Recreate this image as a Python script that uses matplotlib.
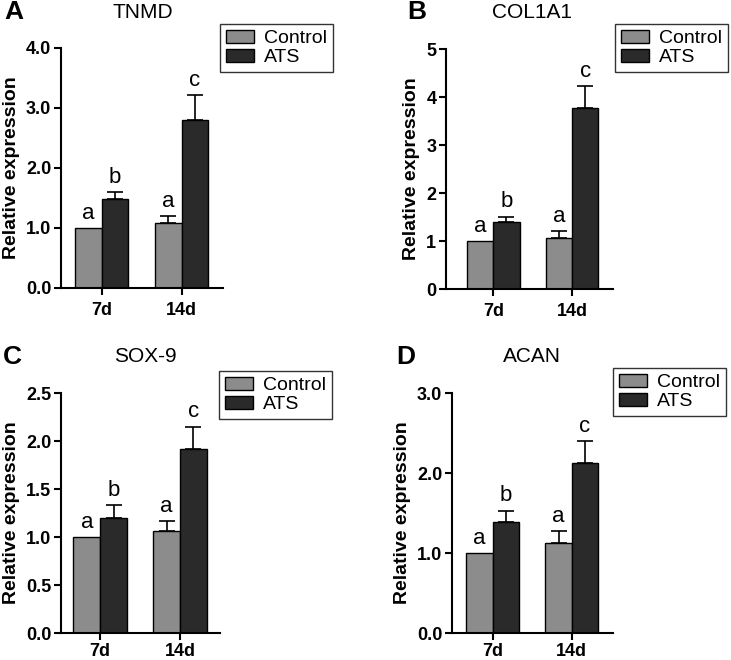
import matplotlib
matplotlib.use("Agg")
import matplotlib.pyplot as plt
import numpy as np

plt.rcParams['font.family'] = ['Liberation Sans', 'DejaVu Sans']

groups = ["7d", "14d"]
series = ["Control", "ATS"]

genes = ["TNMD", "COL1A1", "SOX-9", "ACAN"]
panel_letters = ["A", "B", "C", "D"]

tnmd_ctrl = [1.00, 1.08]
tnmd_ctrl_err = [0.00, 0.12]
tnmd_ats = [1.48, 2.80]
tnmd_ats_err = [0.12, 0.42]

col_ctrl = [1.00, 1.07]
col_ctrl_err = [0.00, 0.13]
col_ats = [1.39, 3.77]
col_ats_err = [0.12, 0.46]

sox_ctrl = [1.00, 1.06]
sox_ctrl_err = [0.00, 0.11]
sox_ats = [1.20, 1.92]
sox_ats_err = [0.13, 0.23]

acan_ctrl = [1.00, 1.12]
acan_ctrl_err = [0.00, 0.15]
acan_ats = [1.39, 2.12]
acan_ats_err = [0.14, 0.28]

ctrl_letters = ["a", "a"]
ats_letters = ["b", "c"]

yticks_list = [
    [0.0, 1.0, 2.0, 3.0, 4.0],
    [0, 1, 2, 3, 4, 5],
    [0.0, 0.5, 1.0, 1.5, 2.0, 2.5],
    [0.0, 1.0, 2.0, 3.0],
]
ytick_labels_list = [
    ["0.0", "1.0", "2.0", "3.0", "4.0"],
    ["0", "1", "2", "3", "4", "5"],
    ["0.0", "0.5", "1.0", "1.5", "2.0", "2.5"],
    ["0.0", "1.0", "2.0", "3.0"],
]

data = [
    (tnmd_ctrl, tnmd_ctrl_err, tnmd_ats, tnmd_ats_err),
    (col_ctrl, col_ctrl_err, col_ats, col_ats_err),
    (sox_ctrl, sox_ctrl_err, sox_ats, sox_ats_err),
    (acan_ctrl, acan_ctrl_err, acan_ats, acan_ats_err),
]

W, H = 731, 660
fig = plt.figure(figsize=(W / 100, H / 100), dpi=100)

# axes rectangles in pixels: left, right, top, bottom (from top)
rects = [
    (61, 223, 48, 288),
    (446, 613, 49, 289),
    (61, 220, 393, 633),
    (452, 613, 393, 633),
]
xlims = [(-0.51, 1.52), (-0.6, 1.52), (-0.49, 1.5), (-0.515, 1.52)]
xpads = [5, 5, 2.5, 2.5]
ylabel_x_px = [12, 412, 12, 402]
letter_pos = [(14, 12), (417, 12), (12, 357), (406, 357)]
title_pos = [(143, 12), (532, 12), (145, 357), (532, 356)]
legend_pos = [(220, 24), (615, 24), (219, 371), (613, 368)]

ctrl_color = "#8c8c8c"
ats_color = "#2a2a2a"
bw = 0.335

for i in range(4):
    l, r, t, b = rects[i]
    ax = fig.add_axes([l / W, 1 - b / H, (r - l) / W, (b - t) / H])
    c, ce, a, ae = data[i]
    x = np.arange(len(groups))
    b1 = ax.bar(x - bw / 2, c, bw, color=ctrl_color, edgecolor="black", linewidth=1.0,
                label=series[0], zorder=2)
    b2 = ax.bar(x + bw / 2, a, bw, color=ats_color, edgecolor="black", linewidth=1.0,
                label=series[1], zorder=2)
    # upward-only error bars
    for xs, vals, errs in [(x - bw / 2, c, ce), (x + bw / 2, a, ae)]:
        for xx, v, e in zip(xs, vals, errs):
            if e > 0:
                ax.errorbar([xx], [v], yerr=[[0], [e]], fmt="none", ecolor="black",
                            elinewidth=1.2, capsize=6, capthick=1.2, zorder=1)
    # significance letters
    for xs, vals, errs, labs in [(x - bw / 2, c, ce, ctrl_letters), (x + bw / 2, a, ae, ats_letters)]:
        for xx, v, e, lab in zip(xs, vals, errs, labs):
            ax.annotate(lab, (xx, v + e), xytext=(0, 3), textcoords="offset points",
                        ha="center", va="bottom", fontsize=16)
    ax.set_xlim(*xlims[i])
    yt = yticks_list[i]
    ax.set_ylim(yt[0], yt[-1])
    ax.set_yticks(yt)
    ax.set_yticklabels(ytick_labels_list[i], fontweight="bold", fontsize=13)
    ax.set_xticks(x)
    ax.set_xticklabels(groups, fontweight="bold", fontsize=13)
    for s in ["top", "right"]:
        ax.spines[s].set_visible(False)
    for s in ["left", "bottom"]:
        ax.spines[s].set_linewidth(1.5)
    ax.tick_params(axis="both", direction="out", length=5, width=1.5, pad=2)
    ax.tick_params(axis="x", pad=xpads[i])
    ax.set_ylabel("Relative expression", fontweight="bold", fontsize=14, va="center")
    ax.yaxis.set_label_coords((ylabel_x_px[i] - l) / (r - l), 0.5)
    # legend
    lx, ly = legend_pos[i]
    leg = fig.legend(handles=[b1, b2], labels=series,
                     loc="upper left",
                     bbox_to_anchor=(lx / W, 1 - ly / H),
                     fontsize=14, frameon=True, fancybox=False,
                     handlelength=1.45, handleheight=0.65, handletextpad=0.5,
                     labelspacing=0.1, borderpad=0.3, borderaxespad=0)
    leg.get_frame().set_edgecolor("black")
    leg.get_frame().set_linewidth(1.0)
    # title and panel letter
    tx, ty = title_pos[i]
    fig.text(tx / W, 1 - ty / H, genes[i], ha="center", va="center", fontsize=15)
    px, py = letter_pos[i]
    fig.text(px / W, 1 - py / H, panel_letters[i], ha="center", va="center",
             fontsize=19, fontweight="bold")

fig.savefig("out.png", dpi=100)
